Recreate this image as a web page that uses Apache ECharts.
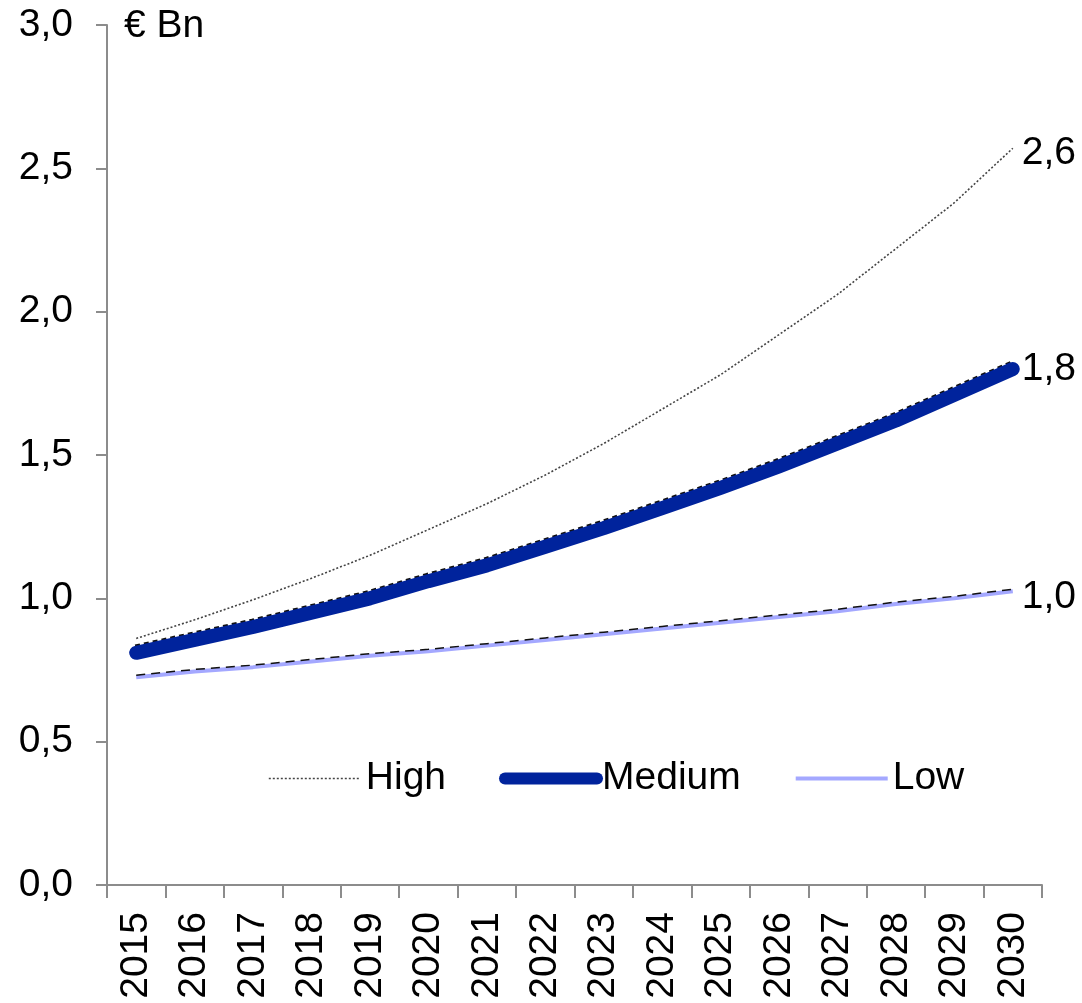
<!DOCTYPE html>
<html>
<head>
<meta charset="utf-8">
<title>Projection, € Bn</title>
<script src="https://cdn.jsdelivr.net/npm/echarts@6/dist/echarts.min.js"></script>
<style>
  html, body { margin: 0; padding: 0; background: #ffffff; }
  #chart { width: 1082px; height: 1003px; }
</style>
</head>
<body>
<div id="chart"></div>
<script>
// Years on the horizontal axis
const years = ['2015', '2016', '2017', '2018', '2019', '2020', '2021', '2022',
               '2023', '2024', '2025', '2026', '2027', '2028', '2029', '2030'];

// Scenario values, € Bn
const high   = [0.86, 0.925, 0.995, 1.07, 1.15, 1.24, 1.33, 1.43, 1.54, 1.66, 1.78, 1.92, 2.06, 2.22, 2.38, 2.57];
const medium = [0.81, 0.855, 0.90, 0.95, 1.00, 1.06, 1.115, 1.18, 1.245, 1.315, 1.385, 1.46, 1.54, 1.62, 1.71, 1.80];
const low    = [0.725, 0.745, 0.76, 0.78, 0.80, 0.815, 0.835, 0.855, 0.875, 0.895, 0.915, 0.935, 0.955, 0.98, 1.00, 1.025];

// Value axis ticks
const yTicks = { min: 0, max: 3, interval: 0.5 };

const FONT = "'Liberation Sans', Arial, Helvetica, sans-serif";
const SIZE = 39;
const AXIS_GREY = '#8c8c8c';
const HIGH_COL = '#444444';
const MED_COL = '#00239c';
const LOW_COL = '#a4a8ff';
const commaFmt = v => Number(v).toFixed(1).replace('.', ',');

const chart = echarts.init(document.getElementById('chart'), null, { renderer: 'canvas' });

const endLabel = (dy) => ({
  show: true,
  formatter: p => commaFmt(p.value),
  distance: 9,
  offset: [0, dy],
  fontFamily: FONT,
  fontSize: SIZE,
  color: '#000'
});

chart.setOption({
  animation: false,
  backgroundColor: '#ffffff',
  textStyle: { fontFamily: FONT },
  grid: [
    { left: 107, right: 40, top: 25, bottom: 118 },
    // same scale lifted by two pixels, used for the dark edge on top of the lines
    { left: 107, right: 40, top: 23, bottom: 120 }
  ],
  graphic: [{
    type: 'text',
    left: 124,
    top: 7,
    style: { text: '€ Bn', fontFamily: FONT, fontSize: SIZE, fill: '#000' }
  }],
  legend: {
    data: [
      { name: 'High', itemStyle: { opacity: 0 }, lineStyle: { color: HIGH_COL, width: 1.6, type: [2, 2] } },
      { name: 'Medium', itemStyle: { opacity: 0 }, lineStyle: { color: MED_COL, width: 12, cap: 'round' } },
      { name: 'Low', itemStyle: { opacity: 0 }, lineStyle: { color: LOW_COL, width: 4 } }
    ],
    left: 263,
    top: 754,
    itemWidth: 92,
    itemHeight: 14,
    itemGap: 53,
    selectedMode: false,
    textStyle: { fontFamily: FONT, fontSize: SIZE, color: '#000', padding: [0, 0, 0, 0] }
  },
  xAxis: [{
    type: 'category',
    data: years,
    gridIndex: 0,
    boundaryGap: true,
    axisLine: { lineStyle: { color: AXIS_GREY, width: 2 } },
    axisTick: { show: true, length: 13, alignWithLabel: false, lineStyle: { color: AXIS_GREY, width: 2 } },
    axisLabel: { interval: 0, rotate: 90, margin: 27, fontFamily: FONT, fontSize: SIZE, color: '#000' },
    splitLine: { show: false }
  }, {
    type: 'category',
    data: years,
    gridIndex: 1,
    boundaryGap: true,
    show: false
  }],
  yAxis: [{
    type: 'value',
    gridIndex: 0,
    min: yTicks.min,
    max: yTicks.max,
    interval: yTicks.interval,
    axisLine: { show: true, lineStyle: { color: AXIS_GREY, width: 2 } },
    axisTick: { show: true, length: 11, lineStyle: { color: AXIS_GREY, width: 2 } },
    axisLabel: { margin: 34, fontFamily: FONT, fontSize: SIZE, color: '#000', formatter: commaFmt },
    splitLine: { show: false }
  }, {
    type: 'value',
    gridIndex: 1,
    min: yTicks.min,
    max: yTicks.max,
    interval: yTicks.interval,
    show: false,
    splitLine: { show: false }
  }],
  series: [
    {
      name: 'Medium edge',
      type: 'line',
      xAxisIndex: 1, yAxisIndex: 1,
      data: medium,
      symbol: 'none',
      lineStyle: { color: '#111', width: 13, type: [5, 4], cap: 'butt' },
      z: 2,
      silent: true
    },
    {
      name: 'Low',
      type: 'line',
      data: low,
      symbol: 'none',
      itemStyle: { color: LOW_COL },
      lineStyle: { color: LOW_COL, width: 4 },
      endLabel: endLabel(6),
      z: 3
    },
    {
      name: 'Low edge',
      type: 'line',
      xAxisIndex: 1, yAxisIndex: 1,
      data: low,
      symbol: 'none',
      lineStyle: { color: '#111', width: 1.5, type: [9, 6] },
      z: 4,
      silent: true
    },
    {
      name: 'High',
      type: 'line',
      data: high,
      symbol: 'none',
      itemStyle: { color: HIGH_COL },
      lineStyle: { color: HIGH_COL, width: 1.6, type: [2, 2] },
      endLabel: endLabel(5),
      z: 3
    },
    {
      name: 'Medium',
      type: 'line',
      data: medium,
      symbol: 'none',
      itemStyle: { color: MED_COL },
      lineStyle: { color: MED_COL, width: 14, cap: 'round', join: 'round' },
      endLabel: endLabel(0),
      z: 5
    }
  ]
});
</script>
</body>
</html>
